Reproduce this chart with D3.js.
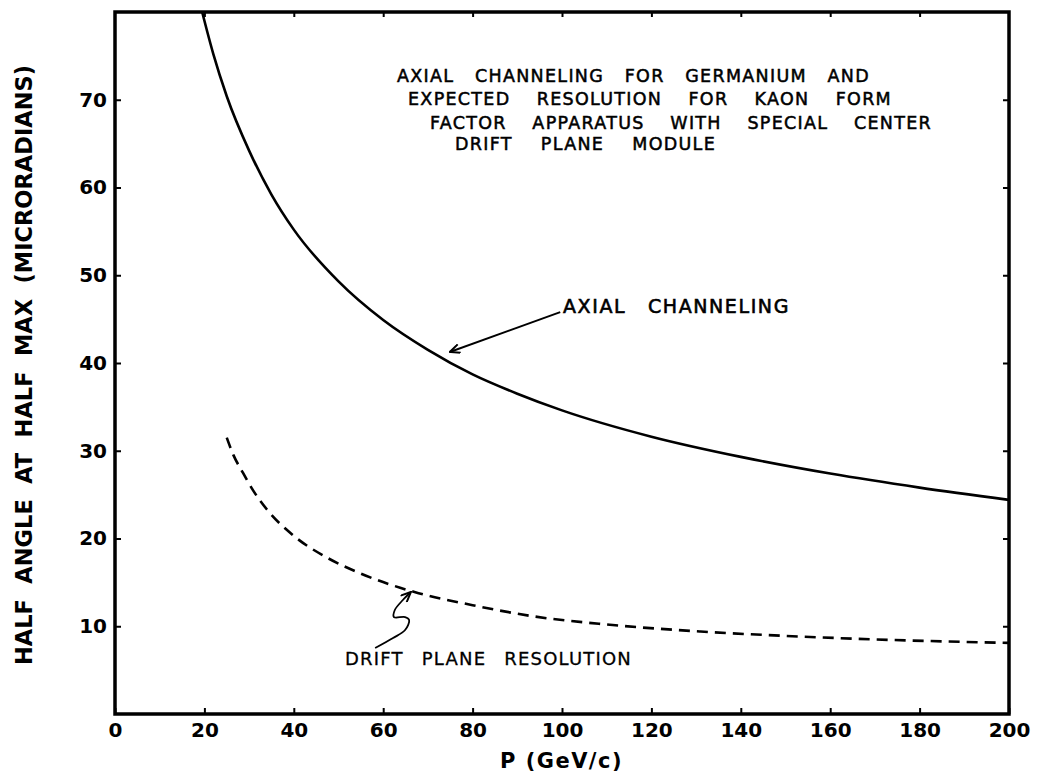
<!DOCTYPE html>
<html>
<head>
<meta charset="utf-8">
<script src="https://cdn.jsdelivr.net/npm/d3@7"></script>
<style>
  html, body { margin: 0; padding: 0; background: #fff; }
  svg text { font-family: "DejaVu Sans", "Liberation Sans", sans-serif; fill: #000; }
</style>
</head>
<body>
<svg id="chart" width="1040" height="779"></svg>
<script>
// values
const axialP = [19.5, 22, 25, 30, 35, 40, 50, 60, 70, 80, 90, 100, 120, 140, 160, 180, 200];
const axialV = [80, 75.2, 70.4, 64.2, 59.2, 55.2, 49.3, 44.9, 41.5, 38.7, 36.5, 34.6, 31.6, 29.3, 27.4, 25.8, 24.4];

const driftP = [25, 26.5, 28.5, 31, 34, 40, 47.5, 55, 67, 80, 94, 110, 131, 150, 170, 200];
const driftV = [31.5, 29.5, 27.6, 25.4, 23.3, 20.3, 17.8, 16, 13.9, 12.4, 11.1, 10.2, 9.4, 8.9, 8.5, 8.1];

const xTicks = [0, 20, 40, 60, 80, 100, 120, 140, 160, 180, 200];
const yTicks = [10, 20, 30, 40, 50, 60, 70];

const titleLines = [
  'AXIAL CHANNELING FOR GERMANIUM AND',
  'EXPECTED RESOLUTION FOR KAON FORM',
  'FACTOR APPARATUS WITH SPECIAL CENTER',
  'DRIFT PLANE MODULE'
];

// annotation pointers in data units
const axialArrow = [[99.6, 45.8], [74.9, 41.25]];
const driftSquiggle = [[58.2, 7.52], [62.2, 8.66], [64.9, 9.57], [65.8, 10.71], [64.9, 11.05],
                       [62.4, 11.05], [62.6, 11.85], [64.4, 12.99], [66.2, 13.9]];

const svg = d3.select('#chart');
const x = d3.scaleLinear().domain([0, 200]).range([115, 1009]);
const y = d3.scaleLinear().domain([0, 80]).range([714, 12]);

// fit a line of text to a target width by stretching word gaps
function fitWords(sel, target) {
  sel.each(function () {
    const t = d3.select(this);
    const n = (t.text().match(/ /g) || []).length;
    t.style('word-spacing', '0px');
    const w = this.getComputedTextLength();
    if (n > 0 && target > w) t.style('word-spacing', ((target - w) / n) + 'px');
    else t.attr('textLength', target).attr('lengthAdjust', 'spacingAndGlyphs');
  });
}

svg.append('defs').append('marker')
  .attr('id', 'head').attr('viewBox', '0 -5 12 10').attr('refX', 11).attr('refY', 0)
  .attr('markerWidth', 12).attr('markerHeight', 10).attr('markerUnits', 'userSpaceOnUse')
  .attr('orient', 'auto')
  .append('path').attr('d', 'M1,-4.5L11,0L1,4.5').attr('fill', 'none')
  .attr('stroke', '#000').attr('stroke-width', 2);

// axes with inward ticks
const gx = svg.append('g').attr('transform', `translate(0,${y(0)})`)
  .call(d3.axisBottom(x).tickValues(xTicks).tickSizeInner(-6).tickSizeOuter(0).tickPadding(9));
const gxTop = svg.append('g').attr('transform', `translate(0,${y(80)})`)
  .call(d3.axisTop(x).tickValues(xTicks.slice(1, -1)).tickSizeInner(-5).tickSizeOuter(0).tickFormat(''));
const gy = svg.append('g').attr('transform', `translate(${x(0)},0)`)
  .call(d3.axisLeft(y).tickValues(yTicks).tickSizeInner(-6).tickSizeOuter(0).tickPadding(8));
const gyR = svg.append('g').attr('transform', `translate(${x(200)},0)`)
  .call(d3.axisRight(y).tickValues(yTicks).tickSizeInner(-6).tickSizeOuter(0).tickFormat(''));

[gx, gxTop, gy, gyR].forEach(g => {
  g.select('.domain').remove();
  g.selectAll('.tick line').attr('stroke', '#000').attr('stroke-width', 2);
  g.selectAll('.tick text').attr('font-size', 20).attr('font-weight', 'bold')
    .style('font-family', '"DejaVu Sans", sans-serif');
});

// frame
svg.append('rect')
  .attr('x', x(0)).attr('y', y(80))
  .attr('width', x(200) - x(0)).attr('height', y(0) - y(80))
  .attr('fill', 'none').attr('stroke', '#000').attr('stroke-width', 3.5);

// curves
const line = d3.line().x(d => x(d[0])).y(d => y(d[1])).curve(d3.curveMonotoneX);

svg.append('path')
  .datum(d3.zip(axialP, axialV))
  .attr('d', line)
  .attr('fill', 'none').attr('stroke', '#000').attr('stroke-width', 2.6);

svg.append('path')
  .datum(d3.zip(driftP, driftV))
  .attr('d', line)
  .attr('fill', 'none').attr('stroke', '#000').attr('stroke-width', 2.6)
  .attr('stroke-dasharray', '11,7');

// pointers
svg.append('path')
  .datum(axialArrow)
  .attr('d', d3.line().x(d => x(d[0])).y(d => y(d[1])))
  .attr('fill', 'none').attr('stroke', '#000').attr('stroke-width', 2)
  .attr('marker-end', 'url(#head)');

svg.append('path')
  .datum(driftSquiggle)
  .attr('d', d3.line().x(d => x(d[0])).y(d => y(d[1])).curve(d3.curveCatmullRom))
  .attr('fill', 'none').attr('stroke', '#000').attr('stroke-width', 1.8)
  .attr('marker-end', 'url(#head)');

// title block
const titleX = [397, 408, 430, 455];
const titleEnd = [870, 892, 932, 716];
const titleY = [82, 105, 129, 150];
titleLines.forEach((s, i) => {
  svg.append('text')
    .attr('x', titleX[i]).attr('y', titleY[i])
    .attr('font-size', 17.5).attr('stroke', '#000').attr('stroke-width', 0.5)
    .style('letter-spacing', '1.3px')
    .text(s)
    .call(fitWords, titleEnd[i] - titleX[i]);
});

svg.append('text')
  .attr('x', 563).attr('y', 313)
  .attr('font-size', 19).attr('stroke', '#000').attr('stroke-width', 0.6)
  .style('letter-spacing', '1.6px')
  .text('AXIAL CHANNELING')
  .call(fitWords, 790 - 563);

svg.append('text')
  .attr('x', 345).attr('y', 665)
  .attr('font-size', 18).attr('stroke', '#000').attr('stroke-width', 0.3)
  .style('letter-spacing', '1.2px')
  .text('DRIFT PLANE RESOLUTION')
  .call(fitWords, 632 - 345);

// axis titles
svg.append('text')
  .attr('x', 500).attr('y', 768)
  .attr('font-size', 21).attr('font-weight', 'bold')
  .style('letter-spacing', '1.5px')
  .text('P (GeV/c)')
  .call(fitWords, 123);

svg.append('text')
  .attr('transform', 'translate(32,665) rotate(-90)')
  .attr('font-size', 22.5).attr('font-weight', 'bold')
  .text('HALF ANGLE AT HALF MAX (MICRORADIANS)')
  .call(fitWords, 600);
</script>
</body>
</html>
